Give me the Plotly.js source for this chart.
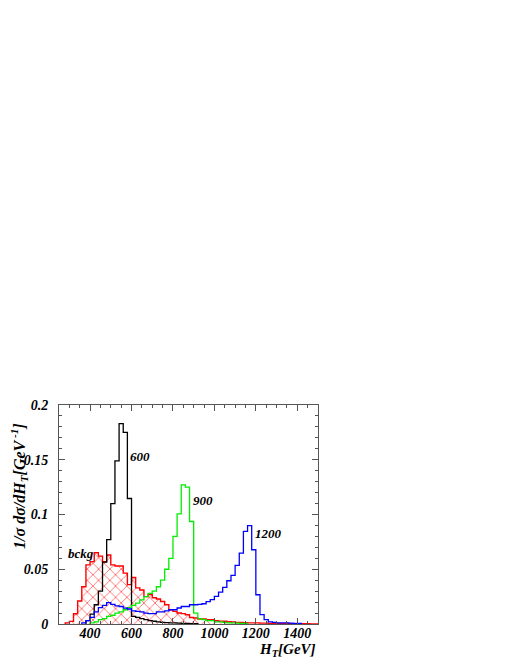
<!DOCTYPE html>
<html>
<head>
<meta charset="utf-8">
<script src="https://cdn.plot.ly/plotly-3.0.1.min.js"></script>
<style>html,body{margin:0;padding:0;background:#fff;}#chart{width:510px;height:660px;}</style>
</head>
<body>
<div id="chart"></div>
<script>
// H_T distributions, 20 GeV bins; values normalised per bin
const binWidth = 20;

const bckgStart = 280;
const bckgValues = [0.001, 0.0024, 0.0094, 0.021, 0.034, 0.054, 0.057, 0.065, 0.062, 0.057,
  0.063, 0.054, 0.053, 0.053, 0.0465, 0.036, 0.0425, 0.033, 0.031, 0.025,
  0.027, 0.024, 0.0228, 0.0206, 0.0176, 0.013, 0.0115, 0.010, 0.0095, 0.0085,
  0.006, 0.0055, 0.0045, 0.0045, 0.004, 0.004, 0.003, 0.0025, 0.0025, 0.002,
  0.0018, 0.0015, 0.0015, 0.0012, 0.001, 0.001, 0.001, 0.0008, 0.0008, 0.0006,
  0.0005, 0.0005, 0.0004, 0.0004, 0.0003, 0.0003, 0.0002, 0.0002, 0.0002, 0.0001, 0.0001];

const m600Start = 380;
const m600Values = [0.003, 0.009, 0.0176, 0.030, 0.0565, 0.077, 0.110, 0.149, 0.183, 0.175,
  0.1146, 0.007, 0.006, 0.005, 0.004, 0.003, 0.0025, 0.002, 0.0015, 0.0012,
  0.001, 0.001, 0.0008, 0.0006, 0.0005, 0.0004, 0.0003];

const m900Start = 400;
const m900Values = [0.001, 0.002, 0.004, 0.005, 0.007, 0.008, 0.010, 0.011, 0.013, 0.015,
  0.017, 0.019, 0.022, 0.025, 0.028, 0.030, 0.034, 0.040, 0.050, 0.060,
  0.080, 0.1006, 0.127, 0.125, 0.0936, 0.010, 0.005, 0.004, 0.003, 0.003,
  0.002, 0.002, 0.0015, 0.001, 0.001, 0.0008, 0.0006, 0.0005];

const m1200Start = 360;
const m1200Values = [0.001, 0.003, 0.006, 0.011, 0.015, 0.017, 0.0195, 0.018, 0.0165, 0.016,
  0.0145, 0.0137, 0.012, 0.0115, 0.011, 0.010, 0.0094, 0.0094, 0.011, 0.011,
  0.012, 0.013, 0.013, 0.0146, 0.016, 0.016, 0.0176, 0.0176, 0.018, 0.0185,
  0.0205, 0.0222, 0.0252, 0.0292, 0.0334, 0.0395, 0.0444, 0.0535, 0.0648, 0.0845,
  0.0899, 0.0678, 0.0267, 0.0085, 0.004, 0.002, 0.0015, 0.001, 0.001, 0.001,
  0.0008, 0.0006, 0.0005];

const xTickVals = [400, 600, 800, 1000, 1200, 1400];
const yTickVals = [0, 0.05, 0.1, 0.15, 0.2];
const yTickText = ['0', '0.05', '0.1', '0.15', '0.2'];

const curveLabels = [
  {text: '600', x: 641, y: 0.1526},
  {text: '900', x: 945, y: 0.113},
  {text: '1200', x: 1259, y: 0.0823},
  {text: 'bckg', x: 355, y: 0.064}
];

function stepTrace(start, vals) {
  const x = [start], y = [0];
  for (let i = 0; i < vals.length; i++) { x.push(start + i * binWidth); y.push(vals[i]); }
  x.push(start + vals.length * binWidth); y.push(0);
  return {x, y};
}

const serif = 'Liberation Serif, Times New Roman, serif';
const lbl = {family: serif, size: 13, weight: 'bold', style: 'italic', color: '#000'};
const tickF = {family: serif, size: 14, weight: 'bold', style: 'italic', color: '#000'};

const bg = stepTrace(bckgStart, bckgValues);
const s6 = stepTrace(m600Start, m600Values);
const s9 = stepTrace(m900Start, m900Values);
const s12 = stepTrace(m1200Start, m1200Values);

const traces = [
  {x: bg.x, y: bg.y, mode: 'lines', line: {shape: 'hv', color: '#ff0000', width: 1.4},
   fill: 'tozeroy', fillcolor: 'rgba(0,0,0,0)',
   fillpattern: {shape: 'x', fgcolor: '#ff3b3b', bgcolor: 'rgba(0,0,0,0)', size: 8, solidity: 0.16},
   hoverinfo: 'skip'},
  {x: s6.x, y: s6.y, mode: 'lines', line: {shape: 'hv', color: '#000000', width: 1.3}, hoverinfo: 'skip'},
  {x: s9.x, y: s9.y, mode: 'lines', line: {shape: 'hv', color: '#00ee00', width: 1.3}, hoverinfo: 'skip'},
  {x: s12.x, y: s12.y, mode: 'lines', line: {shape: 'hv', color: '#0000ff', width: 1.3}, hoverinfo: 'skip'}
];

const annotations = curveLabels.map(c => ({
  text: c.text, x: c.x, y: c.y, xref: 'x', yref: 'y', showarrow: false,
  xanchor: 'center', yanchor: 'middle', font: lbl
}));
annotations.push({
  text: '1/σ dσ/dH<sub>T</sub>[GeV<sup> -1</sup>]', xref: 'paper', yref: 'paper',
  x: -0.155, y: 0.63, textangle: -90, showarrow: false, xanchor: 'center', yanchor: 'middle',
  font: {family: serif, size: 16, weight: 'bold', style: 'italic', color: '#000'}
});
annotations.push({
  text: 'H<sub>T</sub>[GeV]', xref: 'paper', yref: 'paper',
  x: 1.0, y: -0.118, showarrow: false, xanchor: 'right', yanchor: 'middle',
  font: {family: serif, size: 15, weight: 'bold', style: 'italic', color: '#000'}
});

const layout = {
  width: 510, height: 660,
  margin: {l: 59, r: 192, t: 405, b: 36, pad: 0},
  paper_bgcolor: '#fff', plot_bgcolor: '#fff',
  showlegend: false,
  xaxis: {
    range: [250, 1500], showgrid: false, zeroline: false,
    showline: true, linecolor: '#555', linewidth: 1, mirror: 'allticks',
    ticks: 'inside', ticklen: 6, tickcolor: '#555',
    tickvals: xTickVals, ticktext: xTickVals.map(String),
    tickfont: tickF, ticklabelstandoff: -4,
    minor: {ticks: 'inside', dtick: 50, tick0: 0, ticklen: 3, tickcolor: '#555', showgrid: false}
  },
  yaxis: {
    range: [0, 0.2], showgrid: false, zeroline: false,
    showline: true, linecolor: '#555', linewidth: 1, mirror: 'allticks',
    ticks: 'inside', ticklen: 6, tickcolor: '#555',
    tickvals: yTickVals, ticktext: yTickText,
    tickfont: tickF, ticklabelstandoff: 7,
    minor: {ticks: 'inside', dtick: 0.01, tick0: 0, ticklen: 3, tickcolor: '#555', showgrid: false}
  },
  annotations: annotations
};

Plotly.newPlot('chart', traces, layout, {staticPlot: true, displayModeBar: false});
</script>
</body>
</html>
